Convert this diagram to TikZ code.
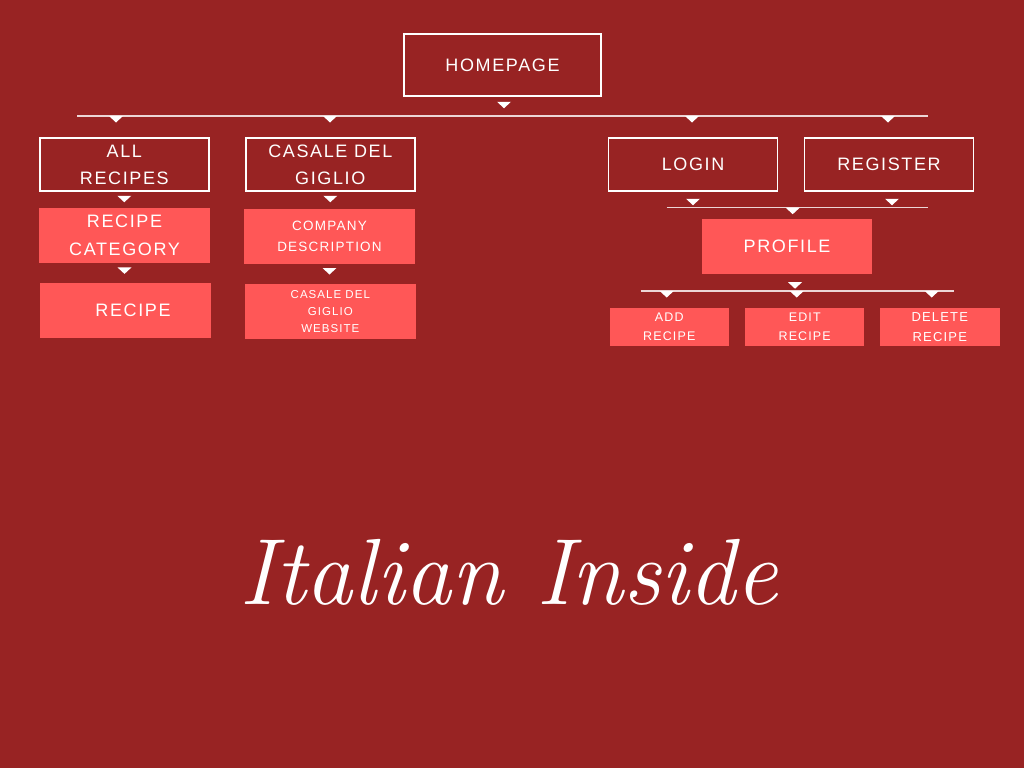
\documentclass[tikz,border=0pt]{standalone}
\usepackage{fontspec}
\newfontfamily\chartfont[LetterSpace=9]{Liberation Sans}
\definecolor{bgred}{RGB}{152,35,35}
\definecolor{boxred}{RGB}{255,87,87}
\definecolor{linegray}{RGB}{236,214,214}
\tikzset{
	outbox/.style={draw=white, line width=1.5pt, text=white, minimum width=169pt, minimum height=53pt, inner sep=0pt, align=center, font=\chartfont\fontsize{18}{27}\selectfont},
	fillbox/.style={fill=boxred, text=white, minimum width=171pt, minimum height=55pt, inner sep=0pt, align=center, font=\chartfont\fontsize{18}{28}\selectfont},
	smallbox/.style={fillbox, minimum width=119pt, minimum height=38pt, font=\chartfont\fontsize{12.5}{19}\selectfont},
	branch/.style={draw=linegray, line width=1.2pt},
	downtip/.pic={\fill[white] (-7,0) -- (7,0) -- (0,6.5) -- cycle;}
}
\begin{document}
\begin{tikzpicture}[x=1pt,y=-1pt]
	\fill[bgred] (0,0) rectangle (1024,768);
	% top of the site
	\node[outbox, minimum width=197pt, minimum height=62pt] (home) at (502.5,65) {HOMEPAGE};
	\pic at ([xshift=1.5pt,yshift=-5pt]home.south) {downtip};
	\coordinate (main left) at (77,116);
	\coordinate (main right) at (928,116);
	\draw[branch] (main left) -- (main right);
	\foreach \x in {116,330,692,888}
	{
		\pic at (\x,116) {downtip};
	}
	% first level
	\node[outbox] (allrec) at (124.3,164.5) {ALL\\RECIPES};
	\node[outbox] (casale) at (330.3,164.5) {CASALE DEL\\GIGLIO};
	\node[outbox] (login) at (693,164.5) {LOGIN};
	\node[outbox] (register) at (889,164.5) {REGISTER};
	% recipes column
	\pic at ([yshift=-4pt]allrec.south) {downtip};
	\node[fillbox] (reccat) at (124.5,235.7) {RECIPE\\CATEGORY};
	\pic at ([yshift=-4pt]reccat.south) {downtip};
	\node[fillbox] (recipe) at (125,310.7) {\hspace*{16pt}RECIPE};
	% casale del giglio column
	\pic at ([yshift=-4pt]casale.south) {downtip};
	\node[fillbox, font=\chartfont\fontsize{13.5}{21}\selectfont] (company) at (329.5,236.3) {COMPANY\\DESCRIPTION};
	\pic at ([yshift=-4pt]company.south) {downtip};
	\node[fillbox, font=\chartfont\fontsize{11.5}{17}\selectfont] (website) at (330.3,311.8) {CASALE DEL\\GIGLIO\\WEBSITE};
	% account column
	\pic at ([yshift=-7pt]login.south) {downtip};
	\pic at ([xshift=3pt,yshift=-7pt]register.south) {downtip};
	\coordinate (acc left) at (666.7,207.7);
	\coordinate (acc right) at (927.7,207.7);
	\draw[branch] (acc left) -- (acc right);
	\pic at (792.7,207.7) {downtip};
	\node[fillbox, minimum width=170pt] (profile) at (787,246.5) {PROFILE};
	\pic at ([xshift=8pt,yshift=-8pt]profile.south) {downtip};
	\coordinate (prof left) at (640.7,291);
	\coordinate (prof right) at (954.3,291);
	\draw[branch] (prof left) -- (prof right);
	\foreach \x in {666.7,796.7,931.7}
	{
		\pic at (\x,291) {downtip};
	}
	\node[smallbox] (addrec) at (669.3,327) {ADD\\RECIPE};
	\node[smallbox] (editrec) at (804.7,327) {EDIT\\RECIPE};
	\node[smallbox, minimum width=120pt, font=\chartfont\fontsize{13}{19.5}\selectfont] (delrec) at (939.8,327) {DELETE\\RECIPE};
	% brand name
	\node[text=white, font=\fontsize{94}{94}\selectfont\itshape] (brand) at (509,572) {Italian Inside};
\end{tikzpicture}
\end{document}
